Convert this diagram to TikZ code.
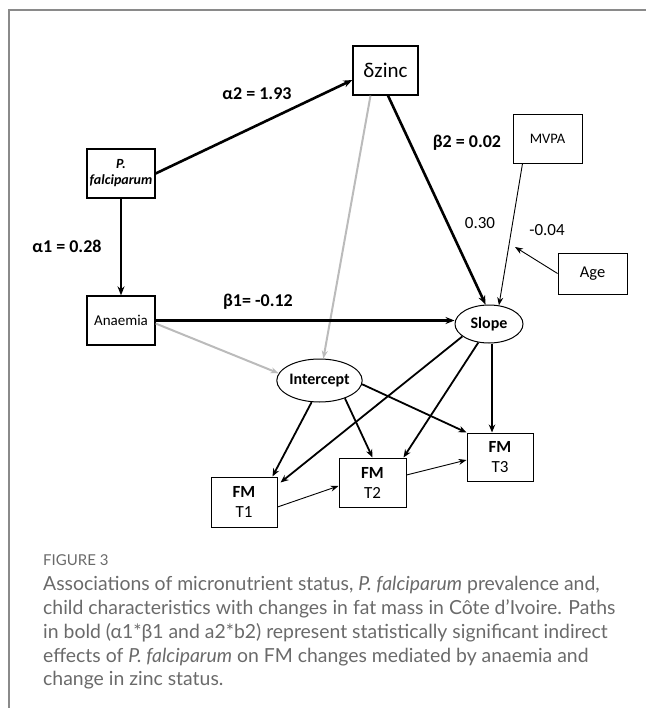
\documentclass[tikz,border=0pt]{standalone}
\usepackage{fontspec}
\setmainfont{Carlito}
\newfontfamily\capfont{Lato}
\usetikzlibrary{arrows.meta,shapes.geometric}
\definecolor{framegray}{HTML}{8A8A8A}
\definecolor{capgray}{HTML}{6A6A6A}
\definecolor{pathgray}{HTML}{BBBBBB}
\begin{document}
\begin{tikzpicture}[x=1pt,y=-1pt,
  box/.style={draw,line width=1.3pt,inner sep=0pt,align=center,font=\fontsize{15}{16}\selectfont},
  oval/.style={draw,ellipse,line width=1pt,inner sep=0pt,font=\fontsize{15}{16}\selectfont\bfseries},
  thickarrow/.style={line width=2.6pt,-{Stealth[length=9pt,width=7pt]}},
  midarrow/.style={line width=1.8pt,-{Stealth[length=8pt,width=6.5pt]}},
  thinarrow/.style={line width=0.9pt,-{Stealth[length=8pt,width=6pt]}},
  grayarrow/.style={line width=2pt,pathgray,-{Stealth[length=8pt,width=6pt]}},
  coef/.style={font=\fontsize{18}{19}\selectfont\bfseries},
  plain/.style={font=\fontsize{17}{18}\selectfont},
  capline/.style={anchor=base west,inner sep=0pt,text=capgray,font=\capfont\fontsize{19.4}{21}\selectfont}]
\useasboundingbox (0,0) rectangle (646,708);
\draw[framegray,line width=2pt] (9,708) -- (9,10) -- (646,10);

% nodes
\node[box,minimum width=65pt,minimum height=49pt,font=\fontsize{21}{23}\selectfont] (dz) at (385.5,70.5) {δzinc};
\node[box,minimum width=68pt,minimum height=49pt,font=\fontsize{14}{16}\selectfont\bfseries\itshape] (pf) at (121,173.5) {P.\\falciparum};
\node[box,minimum width=68pt,minimum height=49pt] (an) at (121,320.5) {Anaemia};
\node[box,line width=0.9pt,minimum width=69pt,minimum height=49pt,font=\fontsize{14.5}{15}\selectfont] (mv) at (547.5,138.5) {MVPA};
\node[box,line width=0.9pt,minimum width=69pt,minimum height=41pt,font=\fontsize{16.5}{18}\selectfont] (age) at (592.5,273.5) {Age};
\node[oval,minimum width=68pt,minimum height=38pt,font=\fontsize{16}{17}\selectfont\bfseries] (sl) at (489,324) {Slope};
\node[oval,minimum width=70pt,minimum height=43pt,font=\fontsize{16}{17}\selectfont\bfseries] (it) at (319.5,380.5) {Intercept};
\node[box,line width=1pt,minimum width=66pt,minimum height=50pt,font=\fontsize{17}{20}\selectfont] (t1) at (244,502) {\textbf{FM}\\T1};
\node[box,line width=1pt,minimum width=67pt,minimum height=49pt,font=\fontsize{17}{20}\selectfont] (t2) at (372.5,482.5) {\textbf{FM}\\T2};
\node[box,line width=1pt,minimum width=66pt,minimum height=48pt,font=\fontsize{17}{20}\selectfont] (t3) at (500,457) {\textbf{FM}\\T3};
\coordinate (mod) at (515,247);

% connectors
\draw[grayarrow] ([xshift=-15pt]dz.south) -- (it.80);
\draw[grayarrow] ([yshift=-3pt]an.east) -- (it.170);
\draw[thickarrow] (pf.east) -- ([yshift=-9.5pt]dz.west);
\draw[thickarrow] (pf.south) -- (an.north);
\draw[thickarrow] (an.east) -- (an.east -| sl.west);
\draw[thickarrow] ([xshift=2.5pt]dz.south) -- (sl.100);
\draw[thinarrow] ([xshift=-25pt]mv.south) -- (sl.62);
\draw[thinarrow] (age.west) -- (mod);
\draw[midarrow] (sl.205) -- ([xshift=3pt,yshift=-6pt]t1.north east);
\draw[midarrow] (sl.240) -- ([xshift=-3pt]t2.north east);
\draw[midarrow] ([xshift=3pt]sl.south) -- ([xshift=-8pt]t3.north);
\draw[midarrow] (it.250) -- ([xshift=-5pt]t1.north east);
\draw[midarrow] (it.-35) -- (t2.north);
\draw[midarrow] (it.-5) -- (t3.north west);
\draw[thinarrow] ([yshift=-5pt]t1.east) -- ([yshift=-3.5pt]t2.west);
\draw[thinarrow] ([yshift=7.5pt]t2.east) -- ([yshift=-3pt]t3.west);

% labels
\node[coef] (la2) at (257,94) {α2 = 1.93};
\node[coef] (la1) at (67,246) {α1 = 0.28};
\node[coef] (lb1) at (258,302) {β1= -0.12};
\node[coef] (lb2) at (467,143) {β2 = 0.02};
\node[plain] (l030) at (480,223) {0.30};
\node[plain] (l004) at (547,230) {-0.04};

% caption
\node[anchor=base west,inner sep=0pt,text=capgray,font=\capfont\fontsize{15}{17}\selectfont] (fig) at (43,565) {FIGURE 3};
\node[capline] (c1) at (43,590) {Associations of micronutrient status, \textit{P. falciparum} prevalence and,};
\node[capline] (c2) at (43,614) {child characteristics with changes in fat mass in Côte d’Ivoire. Paths};
\node[capline] (c3) at (43,638) {in bold (α1*β1 and a2*b2) represent statistically significant indirect};
\node[capline] (c4) at (43,662) {effects of \textit{P. falciparum} on FM changes mediated by anaemia and};
\node[capline] (c5) at (43,685) {change in zinc status.};
\end{tikzpicture}
\end{document}
